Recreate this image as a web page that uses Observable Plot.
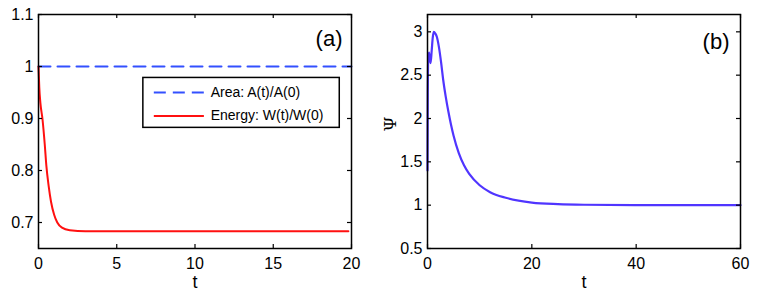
<!DOCTYPE html>
<html>
<head>
<meta charset="utf-8">
<script src="https://cdn.jsdelivr.net/npm/d3@7"></script>
<script src="https://cdn.jsdelivr.net/npm/@observablehq/plot@0.6"></script>
<style>
  body { margin: 0; background: #fff; }
  #wrap { position: relative; width: 763px; height: 292px; background: #fff; }
  #pa { position: absolute; left: 0; top: 0; }
  #pb { position: absolute; left: 380px; top: 0; }
</style>
</head>
<body>
<div id="wrap"><div id="pa"></div><div id="pb"></div></div>
<script>
// Panel (a)
const areaT = [0, 20];
const areaV = [1.0, 1.0];
const energyT = [0, 0.05, 0.12, 0.25, 0.4, 0.5, 0.65, 0.8, 1.0, 1.2, 1.5, 2.0, 3.0, 5.0, 10.0, 19.8];
const energyV = [1.0, 0.96, 0.93, 0.9, 0.85, 0.81, 0.77, 0.74, 0.715, 0.70, 0.69, 0.685, 0.683, 0.683, 0.683, 0.683];
const aXTicks = [0, 5, 10, 15, 20];
const aYTicks = [0.7, 0.8, 0.9, 1, 1.1];
const legendLabels = ["Area: A(t)/A(0)", "Energy: W(t)/W(0)"];

// Panel (b)
const psiT = [0, 0.05, 0.15, 0.3, 0.45, 0.6, 0.8, 1.0, 1.2, 1.5, 1.8, 2.2, 2.6, 3.0, 3.5, 4.0, 4.5, 5.0, 6.0, 7.0, 8.0, 10, 12, 15, 20, 25, 30, 40, 50, 60];
const psiV = [1.4, 2.3, 2.7, 2.76, 2.68, 2.64, 2.78, 2.93, 3.0, 2.98, 2.94, 2.82, 2.65, 2.45, 2.25, 2.08, 1.93, 1.80, 1.60, 1.46, 1.36, 1.23, 1.15, 1.085, 1.03, 1.012, 1.005, 1.001, 1.0, 1.0];
const bXTicks = [0, 20, 40, 60];
const bYTicks = [0.5, 1, 1.5, 2, 2.5, 3];

const areaData = areaT.map((t, i) => ({t, v: areaV[i]}));
const energyData = energyT.map((t, i) => ({t, v: energyV[i]}));
const psiData = psiT.map((t, i) => ({t, v: psiV[i]}));

const FONT = "'Liberation Sans', Arial, Helvetica, sans-serif";
const TICK = 4;

function boxTicks(xt, yt, innerW, innerH) {
  return [
    Plot.tickX(xt, {x: d => d, insetTop: innerH - TICK, stroke: "black", strokeWidth: 1.2}),
    Plot.tickX(xt, {x: d => d, insetBottom: innerH - TICK, stroke: "black", strokeWidth: 1.2}),
    Plot.tickY(yt, {y: d => d, insetRight: innerW - TICK, stroke: "black", strokeWidth: 1.2}),
    Plot.tickY(yt, {y: d => d, insetLeft: innerW - TICK, stroke: "black", strokeWidth: 1.2})
  ];
}

// Panel (a)
{
  const W = 380, H = 292, mL = 38, mR = 29, mT = 14, mB = 44;
  const iW = W - mL - mR, iH = H - mT - mB;
  const blue = "#3350ff", red = "#ff1010";
  const chart = Plot.plot({
    width: W, height: H,
    marginLeft: mL, marginRight: mR, marginTop: mT, marginBottom: mB,
    style: {fontFamily: FONT, fontSize: "16px", background: "white", color: "black", overflow: "visible"},
    x: {domain: [0, 20], label: null},
    y: {domain: [0.65, 1.1], label: null},
    marks: [
      Plot.line(areaData, {x: "t", y: "v", stroke: blue, strokeWidth: 2, strokeDasharray: "12,7"}),
      Plot.line(energyData, {x: "t", y: "v", stroke: red, strokeWidth: 2, curve: "monotone-x"}),
      ...boxTicks(aXTicks, aYTicks, iW, iH),
      Plot.frame({stroke: "black", strokeWidth: 1.5}),
      Plot.axisX(aXTicks, {tickSize: 0, tickPadding: 9, tickFormat: d => String(d), label: null, fontSize: 16}),
      Plot.axisY(aYTicks, {tickSize: 0, tickPadding: 5, tickFormat: d => String(d), label: null, fontSize: 16}),
      Plot.text(["t"], {frameAnchor: "bottom", dy: 34, fontSize: 18, lineAnchor: "middle"}),
      Plot.text(["(a)"], {frameAnchor: "top-right", dx: -9, dy: 24, fontSize: 22, lineAnchor: "middle", textAnchor: "end"}),
      // legend box
      Plot.rect([0], {x1: 6.7, x2: 19.25, y1: 0.978, y2: 0.882, fill: "white", stroke: "black", strokeWidth: 1.5}),
      Plot.ruleY([0], {x1: 7.4, x2: 10.6, y: 0.95, stroke: blue, strokeWidth: 2, strokeDasharray: "12,7"}),
      Plot.ruleY([0], {x1: 7.4, x2: 10.6, y: 0.905, stroke: red, strokeWidth: 2}),
      Plot.text(legendLabels, {x: 11.0, y: (d, i) => [0.95, 0.905][i], text: d => d, textAnchor: "start", fontSize: 14, lineAnchor: "middle"})
    ]
  });
  document.getElementById("pa").appendChild(chart);
}

// Panel (b)
{
  const W = 383, H = 292, mL = 47, mR = 23, mT = 14, mB = 44;
  const iW = W - mL - mR, iH = H - mT - mB;
  const violet = "#5035ff";
  const chart = Plot.plot({
    width: W, height: H,
    marginLeft: mL, marginRight: mR, marginTop: mT, marginBottom: mB,
    style: {fontFamily: FONT, fontSize: "16px", background: "white", color: "black", overflow: "visible"},
    x: {domain: [0, 60], label: null},
    y: {domain: [0.5, 3.2], label: null},
    marks: [
      Plot.line(psiData, {x: "t", y: "v", stroke: violet, strokeWidth: 2.2, curve: "monotone-x"}),
      ...boxTicks(bXTicks, bYTicks, iW, iH),
      Plot.frame({stroke: "black", strokeWidth: 1.5}),
      Plot.axisX(bXTicks, {tickSize: 0, tickPadding: 9, tickFormat: d => String(d), label: null, fontSize: 16}),
      Plot.axisY(bYTicks, {tickSize: 0, tickPadding: 5, tickFormat: d => String(d), label: null, fontSize: 16}),
      Plot.text(["t"], {frameAnchor: "bottom", dy: 34, fontSize: 18, lineAnchor: "middle"}),
      Plot.text(["Ψ"], {frameAnchor: "left", dx: -37, rotate: -90, fontSize: 17, fontFamily: "'DejaVu Serif', serif", lineAnchor: "middle"}),
      Plot.text(["(b)"], {frameAnchor: "top-right", dx: -11, dy: 27, fontSize: 22, lineAnchor: "middle", textAnchor: "end"})
    ]
  });
  document.getElementById("pb").appendChild(chart);
}
</script>
</body>
</html>
